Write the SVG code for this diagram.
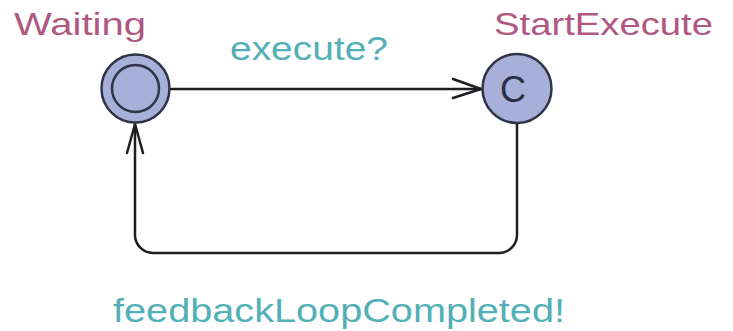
<svg xmlns="http://www.w3.org/2000/svg" width="733" height="331" viewBox="0 0 733 331">
  <style>
    .loc { fill: #a8afd8; stroke: #2f3448; stroke-width: 2.5; }
    .name { font-family: "Liberation Sans", Arial, sans-serif; font-size: 32px; fill: #b0587f; }
    .sync { font-family: "Liberation Sans", Arial, sans-serif; font-size: 34px; fill: #52b0b6; }
    .edge { fill: none; stroke: #1e1e22; stroke-width: 2.5; stroke-linecap: round; stroke-linejoin: round; }
    .head { fill: none; stroke: #1e1e22; stroke-width: 2.5; stroke-linecap: round; stroke-linejoin: round; }
  </style>
  <rect width="733" height="331" fill="#ffffff"/>

  <!-- transitions -->
  <g id="edges">
    <!-- Waiting -> StartExecute -->
    <line class="edge" x1="171" y1="89" x2="481" y2="89"/>
    <polyline class="head" points="453,79 481,89 453,98"/>
    <!-- StartExecute -> Waiting (feedback loop) -->
    <path class="edge" d="M517,123 V235 A18,18 0 0 1 499,253 H153 A18,18 0 0 1 135,235 V124"/>
    <polyline class="head" points="127,153 135,124 143,153"/>
  </g>

  <g id="labels">
    <text class="sync" x="230" y="60" textLength="158" lengthAdjust="spacingAndGlyphs">execute?</text>
    <text class="sync" x="113" y="322" font-size="36" textLength="452" lengthAdjust="spacingAndGlyphs">feedbackLoopCompleted!</text>
  </g>

  <!-- initial location -->
  <g id="waiting">
    <circle class="loc" cx="135.5" cy="88.5" r="34"/>
    <circle class="loc" cx="135.5" cy="88.5" r="23.5"/>
    <text class="name" x="14" y="35" textLength="132" lengthAdjust="spacingAndGlyphs">Waiting</text>
  </g>

  <!-- committed location -->
  <g id="startExecute">
    <circle class="loc" cx="517" cy="88.5" r="34.5"/>
    <text x="513" y="102" text-anchor="middle" font-family="Liberation Sans, Arial, sans-serif" font-size="36" fill="#2a2f45">C</text>
    <text class="name" x="494" y="35" textLength="219" lengthAdjust="spacingAndGlyphs">StartExecute</text>
  </g>
</svg>
